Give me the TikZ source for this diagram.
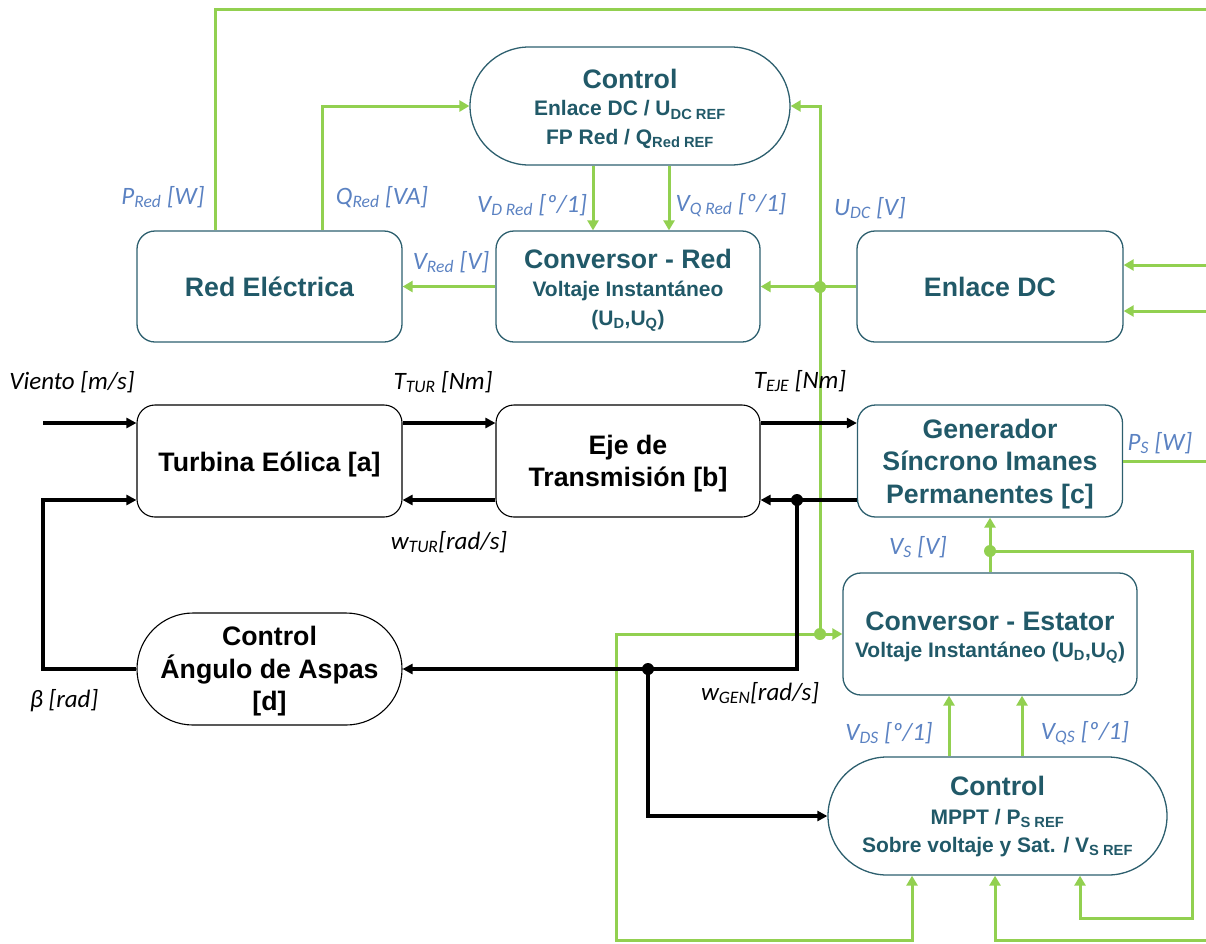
\documentclass[tikz,border=0pt]{standalone}
\usepackage{fontspec}
\setmainfont{Liberation Sans}
\newfontfamily\lblfont{Carlito}
\usetikzlibrary{arrows.meta}

\definecolor{boxteal}{HTML}{2D5F6E}
\definecolor{txtteal}{HTML}{215968}
\definecolor{wiregreen}{HTML}{92D050}
\definecolor{lblblue}{HTML}{5B82C2}

\newcommand{\titlesz}{\fontsize{26.7}{32.5}\selectfont}
\newcommand{\subsz}{\fontsize{21}{28.5}\selectfont}
% invisible strut that pushes a block's text a little lower
\newcommand{\lift}[1]{\rule{0pt}{#1}}

\begin{document}
\begin{tikzpicture}[x=1pt,y=-1pt,
  elbox/.style={draw=boxteal, line width=1.3pt, rounded corners=18pt, text=txtteal,
    align=center, font=\bfseries\titlesz, inner sep=0pt},
  mixbox/.style={elbox, font=\bfseries\subsz},
  mechbox/.style={elbox, draw=black, line width=1.1pt, text=black},
  gr/.style={draw=wiregreen, line width=3pt},
  garr/.style={gr, -{Triangle[length=10pt,width=11pt]}},
  bk/.style={draw=black, line width=3.2pt},
  barr/.style={bk, -{Triangle[length=10pt,width=10pt]}},
  lbl/.style={font=\lblfont\itshape\fontsize{25}{29}\selectfont, text=lblblue, inner sep=0pt},
  mlbl/.style={lbl, text=black}]

\useasboundingbox (0,0) rectangle (1206,943);

% ---- blocks ----
\node[elbox, minimum width=265pt, minimum height=111pt] (red) at (269.5,286.5) {Red Eléctrica};
\node[mixbox, minimum width=264pt, minimum height=111pt] (convR) at (628,286.5)
  {\titlesz\lift{26pt}Conversor - Red\\ \subsz Voltaje Instantáneo\\ \subsz (U\textsubscript{D},U\textsubscript{Q})};
\node[elbox, minimum width=266pt, minimum height=111pt] (enl) at (990,286.5) {Enlace DC};
\node[mixbox, rounded corners=59pt, minimum width=320pt, minimum height=118pt] (ctrlR) at (630,106)
  {\titlesz\lift{25pt}Control\\[-1pt] \subsz Enlace DC / U\textsubscript{DC REF}\\ \subsz FP Red / Q\textsubscript{Red REF}};

\node[mechbox, minimum width=265pt, minimum height=112pt] (turb) at (269.5,461) {\lift{27pt}Turbina Eólica [a]};
\node[mechbox, minimum width=264pt, minimum height=112pt] (eje) at (628,461) {\lift{25pt}Eje de\\Transmisión [b]};
\node[elbox, minimum width=265pt, minimum height=112pt] (gen) at (990,461)
  {\lift{25pt}Generador\\Síncrono Imanes\\Permanentes [c]};
\node[mechbox, rounded corners=56pt, minimum width=265pt, minimum height=112pt] (asp) at (269.5,669)
  {\lift{24pt}Control\\Ángulo de Aspas\\{[d]}};

\node[mixbox, minimum width=294pt, minimum height=122pt] (convE) at (990,634)
  {\titlesz\lift{26pt}Conversor - Estator\\[-2pt] \subsz Voltaje Instantáneo (U\textsubscript{D},U\textsubscript{Q})};
\node[mixbox, rounded corners=59pt, minimum width=339pt, minimum height=118pt] (ctrlS) at (997.5,816)
  {\titlesz\lift{21pt}Control\\ \subsz MPPT / P\textsubscript{S REF}\\ \subsz Sobre voltaje y Sat. / V\textsubscript{S REF}};

% ---- helper points ----
\coordinate (jU) at (820,287);
\coordinate (jE) at (820,634);
\coordinate (cL) at (616,634);
\coordinate (cLb) at (616,940);
\coordinate (xA) at (912,0);
\coordinate (xB) at (995,0);
\coordinate (xC) at (1080,0);
\coordinate (eB) at (1206,940);
\coordinate (jV) at (990,551);
\coordinate (rV) at (1192,551);
\coordinate (rVb) at (1192,918);
\coordinate (xD) at (949,0);
\coordinate (xQ) at (1022,0);
\coordinate (xDR) at (593,0);
\coordinate (xQR) at (669,0);
\coordinate (xQg) at (322,0);
\coordinate (xPg) at (215,0);
\coordinate (tp) at (1206,9);
\coordinate (eP) at (1206,461);
\coordinate (e1) at (1206,265);
\coordinate (e2) at (1206,311);
\coordinate (vin) at (43,423);
\coordinate (rw) at (0,500);
\coordinate (jG) at (797,500);
\coordinate (jA) at (648,669);
\coordinate (bb) at (43,669);

% ---- electrical connections ----
\draw[garr] (enl.west) -- (convR.east |- enl.west);
\draw[garr] (convR.west |- red.east) -- (red.east);
\draw[garr] (jU) |- (ctrlR.east);
\draw[gr] (jU) -- (jE);
\draw[garr] (jE) -- (convE.west);
\draw[garr] (jE) -- (cL) -- (cLb) -| (xA |- ctrlS.south);
\draw[garr] (eB) -| (xB |- ctrlS.south);
\draw[garr] (convE.north) -- (gen.south);
\draw[garr] (jV) -- (rV) -- (rVb) -| (xC |- ctrlS.south);
\draw[garr] (xD |- ctrlS.north) -- (xD |- convE.south);
\draw[garr] (xQ |- ctrlS.north) -- (xQ |- convE.south);
\draw[garr] (xDR |- ctrlR.south) -- (xDR |- convR.north);
\draw[garr] (xQR |- ctrlR.south) -- (xQR |- convR.north);
\draw[garr] (xQg |- red.north) |- (ctrlR.west);
\draw[gr] (xPg |- red.north) |- (tp);
\draw[gr] (gen.east) -- (eP);
\draw[garr] (e1) -- (e1 -| enl.east);
\draw[garr] (e2) -- (e2 -| enl.east);

\fill[wiregreen] (jU) circle (6pt) (jE) circle (6pt) (jV) circle (6pt);

% ---- mechanical connections ----
\draw[barr] (vin) -- (vin -| turb.west);
\draw[barr] (turb.east |- vin) -- (eje.west |- vin);
\draw[barr] (eje.east |- vin) -- (gen.west |- vin);
\draw[barr] (gen.west |- rw) -- (eje.east |- rw);
\draw[barr] (eje.west |- rw) -- (turb.east |- rw);
\draw[barr] (jG) |- (asp.east);
\draw[barr] (jA) |- (ctrlS.west);
\draw[barr] (asp.west) -- (bb) |- (turb.west |- rw);

\fill[black] (jG) circle (6pt) (jA) circle (6pt);

% ---- signal labels ----
\node[lbl] (lPR) at (163,197) {P\textsubscript{Red} [W]};
\node[lbl] (lQR) at (382,197) {Q\textsubscript{Red} [VA]};
\node[lbl] (lVD) at (532,205) {V\textsubscript{D Red} [º/1]};
\node[lbl] (lVQ) at (731,205) {V\textsubscript{Q Red} [º/1]};
\node[lbl] (lUDC) at (870,208) {U\textsubscript{DC} [V]};
\node[lbl] (lVR) at (451,262) {V\textsubscript{Red} [V]};
\node[mlbl] (lW) at (72,382) {Viento [m/s]};
\node[mlbl] (lTT) at (443,382) {T\textsubscript{TUR} [Nm]};
\node[mlbl] (lTE) at (800,381) {T\textsubscript{EJE} [Nm]};
\node[lbl] (lPS) at (1160,443) {P\textsubscript{S} [W]};
\node[mlbl] (lwT) at (449,542) {w\textsubscript{TUR}[rad/s]};
\node[lbl] (lVS) at (918,547) {V\textsubscript{S} [V]};
\node[mlbl] (lb) at (64,701) {β [rad]};
\node[mlbl] (lwG) at (760,693) {w\textsubscript{GEN}[rad/s]};
\node[lbl] (lVDS) at (889,733) {V\textsubscript{DS} [º/1]};
\node[lbl] (lVQS) at (1085,733) {V\textsubscript{QS} [º/1]};
\end{tikzpicture}
\end{document}
